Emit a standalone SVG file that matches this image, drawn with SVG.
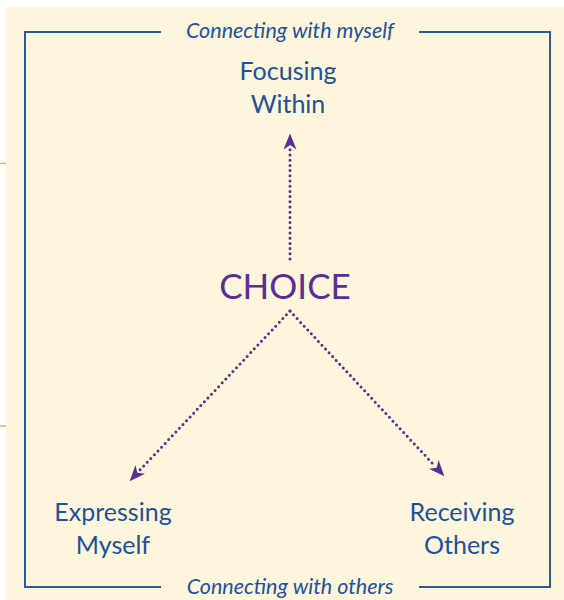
<svg xmlns="http://www.w3.org/2000/svg" width="564" height="600" viewBox="0 0 564 600">
<style>
.lbl{font-family:Lato,"Open Sans","Liberation Sans",sans-serif;fill:#21519b;font-size:25px;text-anchor:middle}
.cap{font-family:Lato,"Open Sans","Liberation Sans",sans-serif;font-style:italic;fill:#21519b;font-size:21.5px;text-anchor:middle}
.choice{font-family:Lato,"Open Sans","Liberation Sans",sans-serif;fill:#5b2e92;font-size:35px;text-anchor:middle}
.frame{stroke:#2a5a9c;stroke-width:2;fill:none}
.dot{stroke:#5b2e92;stroke-width:3;stroke-linecap:round;stroke-dasharray:0 5.2;fill:none}
</style>
<defs>
<marker id="ah" viewBox="0 0 16 13" refX="15.5" refY="6.5" markerWidth="16" markerHeight="13" markerUnits="userSpaceOnUse" orient="auto">
<path d="M0,0 L16,6.5 L0,13 L4.5,6.5 z" fill="#5b2e92"/>
</marker>
</defs>
<rect x="0" y="0" width="564" height="600" fill="#ffffff"/>
<rect x="6" y="7" width="558" height="593" fill="#fdf6dc"/>
<line x1="0" y1="163.5" x2="6" y2="163.5" stroke="#a9d25c" stroke-width="1.5"/>
<line x1="0" y1="426" x2="6" y2="426" stroke="#a9d25c" stroke-width="1.5"/>
<g id="frame">
<path class="frame" d="M161,32 H25 V587 H161"/>
<path class="frame" d="M419,32 H550 V587 H419"/>
<text class="cap" x="290" y="38">Connecting with myself</text>
<text class="cap" x="290" y="594">Connecting with others</text>
</g>
<g id="connectors">
<line class="dot" x1="290" y1="259" x2="290" y2="148"/>
<path d="M290,146 L290,134" stroke="none" fill="none" marker-end="url(#ah)"/>
<line class="dot" x1="290" y1="311" x2="140" y2="470"/>
<path d="M138,472 L130,481" stroke="none" fill="none" marker-end="url(#ah)"/>
<line class="dot" x1="290" y1="311" x2="434" y2="465"/>
<path d="M436,467 L444,476" stroke="none" fill="none" marker-end="url(#ah)"/>
</g>
<g id="focusing"><text class="lbl" x="288" y="80">Focusing</text><text class="lbl" x="288" y="113">Within</text></g>
<g id="choice"><text class="choice" x="285" y="299">CHOICE</text></g>
<g id="expressing"><text class="lbl" x="113" y="521">Expressing</text><text class="lbl" x="113" y="554">Myself</text></g>
<g id="receiving"><text class="lbl" x="462" y="521">Receiving</text><text class="lbl" x="462" y="554">Others</text></g>
</svg>
